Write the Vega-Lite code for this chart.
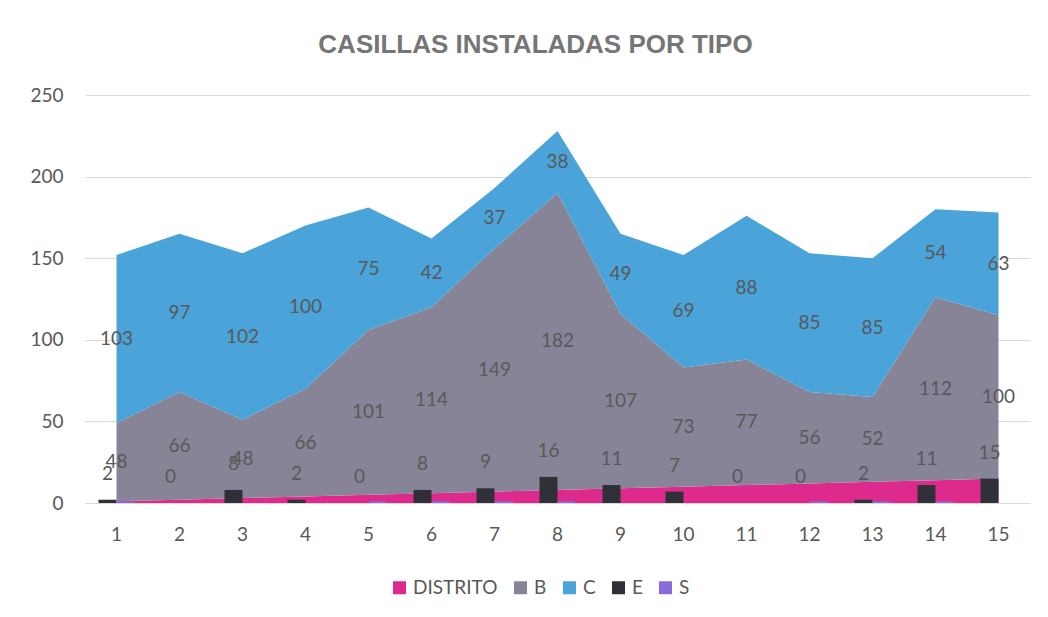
{
 "$schema": "https://vega.github.io/schema/vega-lite/v6.json",
 "width": 945, "height": 408,
 "autosize": {"type": "none"},
 "padding": {"left": 85, "top": 95, "right": 18, "bottom": 114},
 "background": "white",
 "title": {"text": "CASILLAS INSTALADAS POR TIPO", "font": "Liberation Sans", "fontSize": 26, "fontWeight": "bold", "color": "#767676", "anchor": "middle", "dx": -22, "offset": 28},
 "config": {
  "view": {"stroke": null},
  "font": "Lato",
  "legend": {"orient": "none", "legendX": 305, "legendY": 483, "direction": "horizontal", "title": null, "symbolType": "square", "symbolSize": 169, "symbolStrokeWidth": 0, "labelFontSize": 19, "labelColor": "#595959", "labelFont": "Lato", "columnPadding": 13, "symbolOpacity": 1}
 },
 "datasets": {
  "t": [
   {"d":1,"serie":"DISTRITO","v":1,"k":1},{"d":2,"serie":"DISTRITO","v":2,"k":1},{"d":3,"serie":"DISTRITO","v":3,"k":1},{"d":4,"serie":"DISTRITO","v":4,"k":1},{"d":5,"serie":"DISTRITO","v":5,"k":1},{"d":6,"serie":"DISTRITO","v":6,"k":1},{"d":7,"serie":"DISTRITO","v":7,"k":1},{"d":8,"serie":"DISTRITO","v":8,"k":1},{"d":9,"serie":"DISTRITO","v":9,"k":1},{"d":10,"serie":"DISTRITO","v":10,"k":1},{"d":11,"serie":"DISTRITO","v":11,"k":1},{"d":12,"serie":"DISTRITO","v":12,"k":1},{"d":13,"serie":"DISTRITO","v":13,"k":1},{"d":14,"serie":"DISTRITO","v":14,"k":1},{"d":15,"serie":"DISTRITO","v":15,"k":1},
   {"d":1,"serie":"B","v":48,"k":2},{"d":2,"serie":"B","v":66,"k":2},{"d":3,"serie":"B","v":48,"k":2},{"d":4,"serie":"B","v":66,"k":2},{"d":5,"serie":"B","v":101,"k":2},{"d":6,"serie":"B","v":114,"k":2},{"d":7,"serie":"B","v":149,"k":2},{"d":8,"serie":"B","v":182,"k":2},{"d":9,"serie":"B","v":107,"k":2},{"d":10,"serie":"B","v":73,"k":2},{"d":11,"serie":"B","v":77,"k":2},{"d":12,"serie":"B","v":56,"k":2},{"d":13,"serie":"B","v":52,"k":2},{"d":14,"serie":"B","v":112,"k":2},{"d":15,"serie":"B","v":100,"k":2},
   {"d":1,"serie":"C","v":103,"k":3},{"d":2,"serie":"C","v":97,"k":3},{"d":3,"serie":"C","v":102,"k":3},{"d":4,"serie":"C","v":100,"k":3},{"d":5,"serie":"C","v":75,"k":3},{"d":6,"serie":"C","v":42,"k":3},{"d":7,"serie":"C","v":37,"k":3},{"d":8,"serie":"C","v":38,"k":3},{"d":9,"serie":"C","v":49,"k":3},{"d":10,"serie":"C","v":69,"k":3},{"d":11,"serie":"C","v":88,"k":3},{"d":12,"serie":"C","v":85,"k":3},{"d":13,"serie":"C","v":85,"k":3},{"d":14,"serie":"C","v":54,"k":3},{"d":15,"serie":"C","v":63,"k":3},
   {"d":1,"serie":"E","v":2},{"d":2,"serie":"E","v":0},{"d":3,"serie":"E","v":8},{"d":4,"serie":"E","v":2},{"d":5,"serie":"E","v":0},{"d":6,"serie":"E","v":8},{"d":7,"serie":"E","v":9},{"d":8,"serie":"E","v":16},{"d":9,"serie":"E","v":11},{"d":10,"serie":"E","v":7},{"d":11,"serie":"E","v":0},{"d":12,"serie":"E","v":0},{"d":13,"serie":"E","v":2},{"d":14,"serie":"E","v":11},{"d":15,"serie":"E","v":15},
   {"d":1,"serie":"S","v":1},{"d":2,"serie":"S","v":0},{"d":3,"serie":"S","v":0},{"d":4,"serie":"S","v":0},{"d":5,"serie":"S","v":1},{"d":6,"serie":"S","v":1},{"d":7,"serie":"S","v":1},{"d":8,"serie":"S","v":1},{"d":9,"serie":"S","v":0},{"d":10,"serie":"S","v":0},{"d":11,"serie":"S","v":0},{"d":12,"serie":"S","v":1},{"d":13,"serie":"S","v":1},{"d":14,"serie":"S","v":1},{"d":15,"serie":"S","v":0}
  ]
 },
 "data": {"name": "t"},
 "layer": [
  {
   "transform": [{"filter": {"field": "serie", "oneOf": ["DISTRITO", "B", "C"]}}],
   "mark": {"type": "area", "opacity": 1},
   "encoding": {
    "x": {"field": "d", "type": "ordinal", "bandPosition": 0.5, "scale": {"type": "band", "paddingInner": 0, "paddingOuter": 0}, "axis": {"labelAngle": 0, "title": null, "ticks": false, "domain": true, "domainColor": "#d9d9d9", "labelFontSize": 19, "labelColor": "#595959", "labelFont": "Lato", "labelPadding": 22}},
    "y": {"field": "v", "type": "quantitative", "stack": "zero", "scale": {"domain": [0, 250], "nice": false}, "axis": {"title": null, "values": [0, 50, 100, 150, 200, 250], "domain": false, "ticks": false, "gridColor": "#d9d9d9", "labelFontSize": 19, "labelColor": "#595959", "labelFont": "Lato", "labelPadding": 22}},
    "order": {"field": "k", "type": "quantitative"},
    "color": {"field": "serie", "type": "nominal", "scale": {"domain": ["DISTRITO", "B", "C", "E", "S"], "range": ["#DE2A8D", "#878497", "#4AA3D9", "#2F3038", "#8A6BDB"]}}
   }
  },
  {
   "transform": [{"filter": {"field": "serie", "oneOf": ["E", "S"]}}],
   "mark": {"type": "bar"},
   "encoding": {
    "x": {"field": "d", "type": "ordinal"},
    "xOffset": {"field": "serie", "type": "nominal", "scale": {"domain": ["E", "S"], "paddingInner": 0, "paddingOuter": 0.75}},
    "y": {"field": "v", "type": "quantitative", "stack": null},
    "color": {"field": "serie", "type": "nominal"}
   }
  },
  {
   "transform": [{"filter": {"field": "serie", "equal": "E"}}],
   "mark": {"type": "text", "dy": -26, "dx": -9, "fontSize": 19, "color": "#595959", "font": "Lato"},
   "encoding": {
    "x": {"field": "d", "type": "ordinal", "bandPosition": 0.5},
    "y": {"field": "v", "type": "quantitative", "stack": null},
    "text": {"field": "v", "type": "quantitative"}
   }
  },
  {
   "transform": [
    {"filter": {"field": "serie", "oneOf": ["DISTRITO", "B", "C"]}},
    {"stack": "v", "groupby": ["d"], "sort": [{"field": "k", "order": "ascending"}], "as": ["y0", "y1"]},
    {"filter": {"field": "serie", "oneOf": ["B", "C"]}},
    {"fold": ["y0", "y1"], "as": ["kk", "yy"]},
    {"aggregate": [{"op": "mean", "field": "yy", "as": "mid"}], "groupby": ["d", "serie", "v"]}
   ],
   "mark": {"type": "text", "fontSize": 19, "color": "#595959", "font": "Lato"},
   "encoding": {
    "x": {"field": "d", "type": "ordinal", "bandPosition": 0.5},
    "y": {"field": "mid", "type": "quantitative"},
    "text": {"field": "v", "type": "quantitative"}
   }
  }
 ]
}
